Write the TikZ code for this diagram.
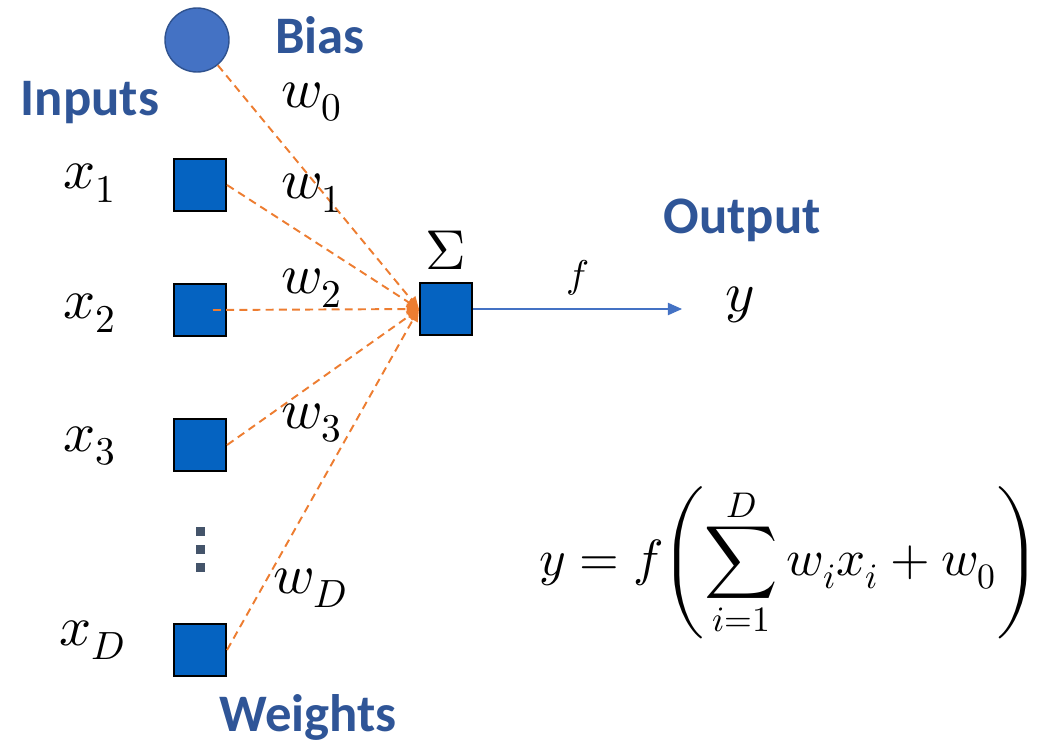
\documentclass[tikz,border=0pt]{standalone}
\usepackage{amsmath}
\usepackage{fontspec}
\usepackage{unicode-math}
\setsansfont{Carlito}
\usepackage{tikz}
\usetikzlibrary{arrows.meta,calc,positioning}
\definecolor{boxblue}{HTML}{0563C1}
\definecolor{biasblue}{HTML}{4472C4}
\definecolor{biasedge}{HTML}{2F528F}
\definecolor{titleblue}{HTML}{2F5597}
\definecolor{wgtorange}{HTML}{ED7D31}
\definecolor{dotgray}{HTML}{44546A}

\begin{document}
\begin{tikzpicture}[x=0.02cm,y=-0.02cm,
    unit/.style={draw=black, line width=1.2pt, fill=boxblue, minimum size=1.04cm, inner sep=0pt},
    biasnode/.style={circle, draw=biasedge, line width=0.8pt, fill=biasblue, minimum size=1.28cm, inner sep=0pt},
    title/.style={text=titleblue, inner sep=1pt, font=\sffamily\bfseries\fontsize{30}{34}\selectfont},
    lbl/.style={inner sep=1pt, font=\fontsize{32}{38}\selectfont},
    weight/.style={wgtorange, line width=1.1pt, dash pattern=on 4.5pt off 3pt,
      -{Triangle[length=7pt,width=6pt]}}]
  \useasboundingbox (0,0) rectangle (1059,744);
  % Define units
  \node[biasnode] (b) at (197,40) {};
  \node[unit] (x1) at (200,185) {};
  \node[unit] (x2) at (200,310) {};
  \node[unit] (x3) at (200,445) {};
  \node[unit] (xD) at (200,650) {};
  \node[unit] (sum) at (446,309) {};
  \coordinate (out) at (682,309);
  % Vertical dots
  \foreach \y in {531,549,567}
    \fill[dotgray] (195.5,\y-4.5) rectangle ++(9,9);
  % Titles
  \node[title] at (320,35) {Bias};
  \node[title] at (90,103) {Inputs};
  \node[title] at (308,717) {Weights};
  \node[title] at (742,220) {Output};
  % Input labels
  \node[lbl] at (90,183) {$x_1$};
  \node[lbl] at (90,313) {$x_2$};
  \node[lbl] at (90,446) {$x_3$};
  \node[lbl] at (92,640) {$x_D$};
  \node[lbl] at (446,250) {$\Sigma$};
  \node[lbl] at (740,305) {$y$};
  % Weighted connections
  \draw[weight] (b) -- (sum.west);
  \draw[weight] (x1.east) -- (sum.west);
  \draw[weight] ($(x2)+(13,0)$) -- (sum.west);
  \draw[weight] (x3.east) -- (sum.west);
  \draw[weight] (xD.east) -- (sum.west);
  \node[lbl] at (312,102) {$w_0$};
  \node[lbl] at (312,193) {$w_1$};
  \node[lbl] at (312,288) {$w_2$};
  \node[lbl] at (312,423) {$w_3$};
  \node[lbl] at (310,588) {$w_D$};
  % Output
  \draw[biasblue, line width=0.6pt, -{Triangle[length=8pt,width=7pt]}] (sum.east) -- (out)
    node[midway, above=4pt, text=black, font=\fontsize{22}{26}\selectfont] {$f$};
  % Equation
  \node[font=\fontsize{29}{34}\selectfont] at (790,563)
    {$\displaystyle y = f\mkern-4mu\left(\sum_{i=1}^{D} w_i x_i + w_0\right)$};
\end{tikzpicture}
\end{document}
